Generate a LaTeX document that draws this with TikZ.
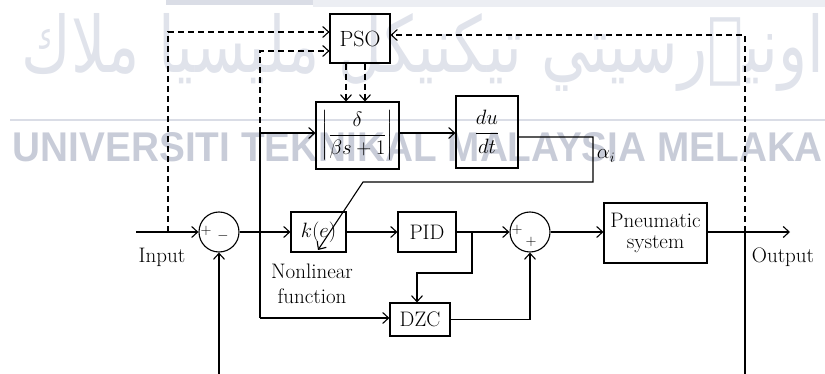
\documentclass[tikz,border=0pt]{standalone}
\usepackage{amsmath}
\usepackage{fontspec}
\usepackage{graphicx}
\usetikzlibrary{arrows.meta}
\TeXXeTstate=1
\newfontfamily\wmfont{Liberation Sans}
\newfontfamily\arabicfont[Script=Arabic]{DejaVu Sans}
\definecolor{wm}{RGB}{200,204,216}
\definecolor{wmlight}{RGB}{218,221,230}
\definecolor{wmjaw}{RGB}{224,227,235}
\tikzset{
  blk/.style={draw, line width=1.1pt, inner sep=0pt, align=center},
  sumnode/.style={draw, circle, line width=1.1pt, minimum size=40pt, inner sep=0pt},
  dsh/.style={dash pattern=on 6pt off 4pt},
  lbl/.style={inner sep=0pt, align=center},
  sgn/.style={inner sep=0pt, font=\fontsize{14}{16}\selectfont},
  wmtext/.style={inner sep=0pt, text=wm},
}
\begin{document}
\begin{tikzpicture}[x=1pt,y=-1pt, font=\fontsize{21}{25}\selectfont, line width=1.1pt,
  >={Straight Barb[length=6pt,width=11pt]}]
\useasboundingbox (0,0) rectangle (825,374);
% watermark
\begin{scope}
\clip (0,0) rectangle (825,374);
\fill[wmlight!50] (313,0) rectangle (825,7);
\fill[wmlight] (166,0) rectangle (313,5);
\draw[wmlight, line width=2pt] (10,120) -- (825,120);
\node[wmtext, text=wmjaw] (wmjawi) at (423,52) {\resizebox*{803pt}{78pt}{\arabicfont\beginR اونيۏرسيتي تيكنيكل مليسيا ملاك\endR}};
\node[wmtext] (wmlatin) at (418,147.5) {\resizebox{810pt}{29pt}{\wmfont\bfseries UNIVERSITI TEKNIKAL MALAYSIA MELAKA}};
\end{scope}
% blocks
\node[blk, minimum width=60pt, minimum height=49pt, font=\fontsize{22}{26}\selectfont] (pso) at (360,38.5) {PSO};
\node[blk, minimum width=83pt, minimum height=67pt] (delta) at (357.5,135.5) {$\left|\dfrac{\delta}{\beta s+1}\right|$};
\node[blk, minimum width=62pt, minimum height=72pt] (dudt) at (487,132) {$\genfrac{}{}{1.6pt}{0}{du}{dt}$};
\node[sumnode] (sum1) at (219,232) {};
\node[blk, minimum width=55pt, minimum height=40pt] (ke) at (318.5,232) {$k(e)$};
\node[blk, minimum width=58pt, minimum height=40pt] (pid) at (427,232) {PID};
\node[blk, minimum width=60pt, minimum height=33pt] (dzc) at (420,319.5) {DZC};
\node[sumnode] (sum2) at (530,232) {};
\node[blk, minimum width=103pt, minimum height=60pt] (plant) at (655.5,233) {Pneumatic\\[-4pt]system};
% signs
\node[sgn] (s1a) at (206,231) {$+$};
\node[sgn] (s1b) at (223,236) {$-$};
\node[sgn] (s2a) at (517,230) {$+$};
\node[sgn] (s2b) at (531,242) {$+$};
% labels
\node[lbl] (linput) at (162,257) {Input};
\node[lbl] (loutput) at (783,257) {Output};
\node[lbl] (lnl) at (312,284) {Nonlinear\\[0pt]function};
\node[lbl] (lalpha) at (606,156) {$\alpha_i$};
% coordinates
\coordinate (in) at (136,232);
\coordinate (out) at (790,232);
\coordinate (c1) at (168,232);
\coordinate (c1top) at (168,32);
\coordinate (b1) at (260,232);
\coordinate (b1up) at (260,133);
\coordinate (b1top) at (260,51);
\coordinate (b1dn) at (260,318);
\coordinate (b2) at (472,232);
\coordinate (b2d) at (472,273);
\coordinate (b2l) at (417,273);
\coordinate (o1) at (745,232);
\coordinate (o1top) at (745,35);
\coordinate (o1bot) at (745,374);
\coordinate (fb) at (219,374);
\coordinate (a1) at (593,137);
\coordinate (a2) at (593,182);
\coordinate (a3) at (363,182);
\coordinate (a4) at (318,250);
% main path
\draw[->] (in) -- (sum1.west);
\draw[->] (sum1.east) -- (ke.west);
\draw[->] (ke.east) -- (pid.west);
\draw[->] (pid.east) -- (sum2.west);
\draw[->] (sum2.east) -- (sum2.east -| plant.west);
\draw[->] (plant.east |- sum2.east) -- (out);
\draw[->] (fb) -- (sum1.south);
\draw (o1) -- (o1bot);
% branches
\draw (b1up) -- (b1dn);
\draw[->] (b1up) -- (b1up -| delta.west);
\draw[->] (b1dn) -- (b1dn -| dzc.west);
\draw[->] (b2) -- (b2d) -- (b2l) -- (b2l |- dzc.north);
\draw[->] (dzc.east) -- (dzc.east -| sum2.south) -- (sum2.south);
\draw[->] (delta.east |- b1up) -- (b1up -| dudt.west);
\draw[->] ([yshift=-5pt]dudt.east) -- (a1) -- (a2) -- (a3) -- (a4);
% dashed PSO connections
\draw[dsh,->] (c1) -- (c1top) -- (c1top -| pso.west);
\draw[dsh,->] (b1up) -- (b1top) -- (b1top -| pso.west);
\draw[dsh,->] (o1) -- (o1top) -- (o1top -| pso.east);
\draw[dsh,->] ([xshift=-14pt]pso.south) -- ([xshift=-14pt]pso.south |- delta.north);
\draw[dsh,->] ([xshift=5pt]pso.south) -- ([xshift=5pt]pso.south |- delta.north);
\end{tikzpicture}
\end{document}
